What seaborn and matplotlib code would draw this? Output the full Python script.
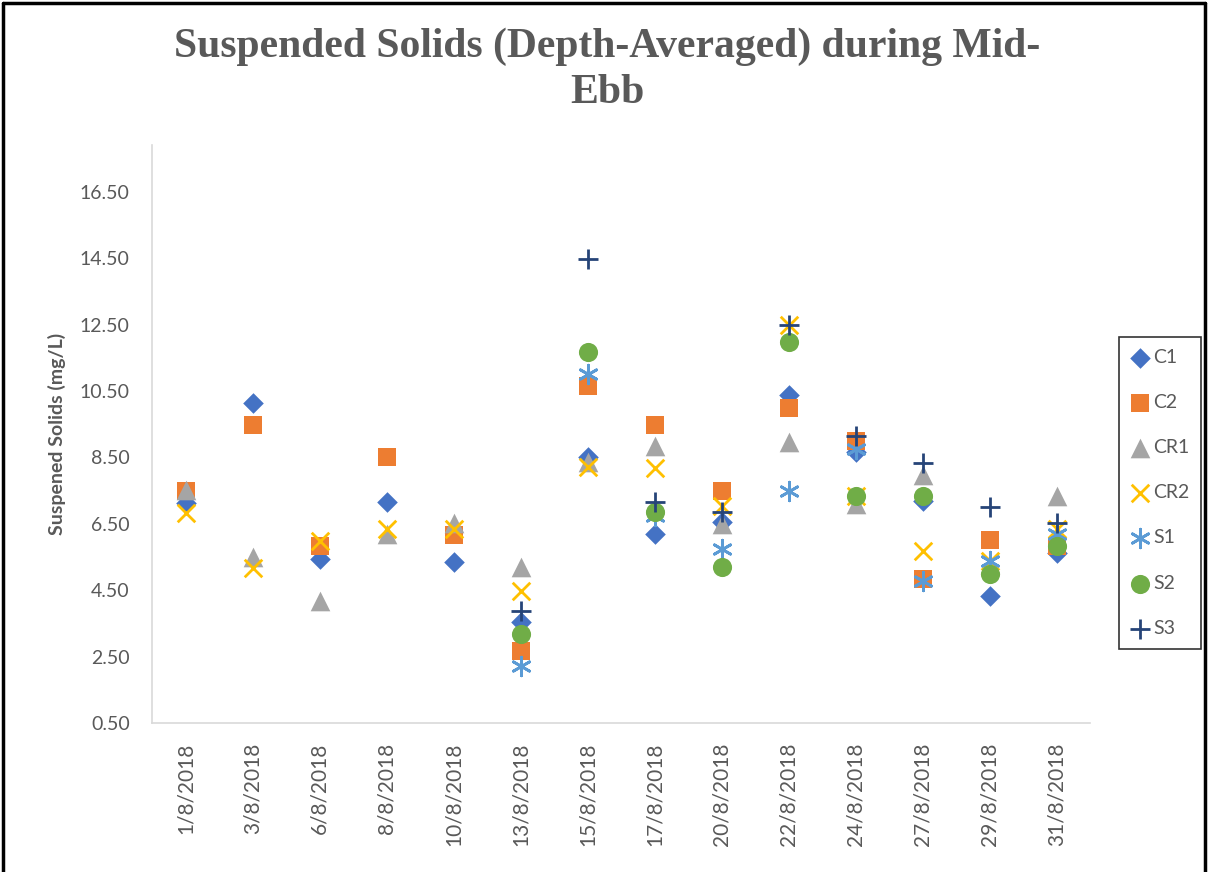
import matplotlib
matplotlib.use("Agg")
import numpy as np
import pandas as pd
import matplotlib.pyplot as plt
import seaborn as sns
from matplotlib.lines import Line2D

nan = np.nan

# Fechas de muestreo (eje x categorico)
dates = ["1/8/2018", "3/8/2018", "6/8/2018", "8/8/2018", "10/8/2018", "13/8/2018",
         "15/8/2018", "17/8/2018", "20/8/2018", "22/8/2018", "24/8/2018", "27/8/2018",
         "29/8/2018", "31/8/2018"]

# Valores (mg/L)
c1 = [7.12, 10.15, 5.45, 7.15, 5.34, 3.54, 8.50, 6.18, 6.55, 10.38, 8.65, 7.18, 4.32, 5.62]
c2 = [7.50, 9.49, 5.82, 8.50, 6.15, 2.67, 10.64, 9.49, 7.50, 10.00, 8.98, 4.83, 6.00, 5.82]
cr1 = [7.52, 5.50, 4.17, 6.18, 6.52, 5.19, 8.35, 8.83, 6.48, 8.95, 7.09, 7.96, 5.28, 7.33]
cr2 = [6.82, 5.16, 5.97, 6.33, 6.33, 4.47, 8.20, 8.17, 7.03, 12.50, 7.33, 5.67, 5.37, 6.33]
s1 = [nan, nan, nan, nan, nan, 2.21, 11.00, 6.73, 5.73, 7.48, 8.74, 4.77, 5.37, 6.18]
s2 = [nan, nan, nan, nan, nan, 3.18, 11.66, 6.85, 5.19, 11.99, 7.33, 7.33, 5.00, 5.82]
s3 = [nan, nan, nan, nan, nan, 3.87, 14.48, 7.15, 6.85, 12.50, 9.13, 8.32, 7.00, 6.52]

series_names = ["C1", "C2", "CR1", "CR2", "S1", "S2", "S3"]
series_vals = [c1, c2, cr1, cr2, s1, s2, s3]

yticks = [0.5, 2.5, 4.5, 6.5, 8.5, 10.5, 12.5, 14.5, 16.5]

# Estilo de cada serie (tipo Excel)
styles = {
    "C1": dict(marker="D", color="#4472C4", s=110),
    "C2": dict(marker="s", color="#ED7D31", s=180),
    "CR1": dict(marker="^", color="#A5A5A5", s=200),
    "CR2": dict(marker="x", color="#FFC000", s=160),
    "S1": dict(marker=(6, 2, 0), color="#5B9BD5", s=180),
    "S2": dict(marker="o", color="#70AD47", s=190),
    "S3": dict(marker="+", color="#264478", s=190),
}

sns.set_theme(style="white")
plt.rcParams["font.family"] = ["Lato", "DejaVu Sans"]

fig = plt.figure(figsize=(12.08, 8.72), dpi=100)
ax = fig.add_axes([152 / 1208, 1 - 723 / 872, (1090 - 152) / 1208, (723 - 145) / 872])

for name, vals in zip(series_names, series_vals):
    st = styles[name]
    df = pd.DataFrame({"fecha": dates, "valor": vals}).dropna()
    if st["marker"] in ("x", "+") or isinstance(st["marker"], tuple):
        sns.scatterplot(data=df, x="fecha", y="valor", ax=ax, marker=st["marker"],
                        color=st["color"], s=st["s"], linewidth=2.0,
                        edgecolor=st["color"], label=name)
    else:
        sns.scatterplot(data=df, x="fecha", y="valor", ax=ax, marker=st["marker"],
                        color=st["color"], s=st["s"], linewidth=0, label=name)

ax.set_xlim(-0.5, len(dates) - 0.5)
ax.set_ylim(0.5, 17.91)
ax.set_yticks(yticks)
ax.set_yticklabels([f"{v:.2f}" for v in yticks])
ax.tick_params(axis="both", length=0, colors="#595959", labelsize=14)
ax.tick_params(axis="y", pad=16)
ax.tick_params(axis="x", pad=14, labelsize=15)
for lab in ax.get_xticklabels():
    lab.set_rotation(90)
ax.set_xlabel("")
ax.set_ylabel("Suspened Solids (mg/L)", fontsize=14, fontweight="bold", color="#595959",
              labelpad=10)
for side in ["top", "right"]:
    ax.spines[side].set_visible(False)
for side in ["left", "bottom"]:
    ax.spines[side].set_color("#D9D9D9")
    ax.spines[side].set_linewidth(1.2)

leg = ax.legend(loc="upper left", bbox_to_anchor=(1119 / 1208, 1 - 337 / 872),
                bbox_transform=fig.transFigure, frameon=True, fancybox=False,
                fontsize=14, labelspacing=1.45, handletextpad=0.15, borderpad=0.6,
                handlelength=1.0, borderaxespad=0)
leg.get_frame().set_edgecolor("black")
leg.get_frame().set_linewidth(1.2)
for t in leg.get_texts():
    t.set_color("#595959")

title_font = ["Liberation Serif", "DejaVu Serif"]
fig.text(0.503, 1 - 47 / 872, "Suspended Solids (Depth-Averaged) during Mid-",
         ha="center", va="center", fontsize=30, fontweight="bold", color="#595959",
         family=title_font)
fig.text(0.503, 1 - 93 / 872, "Ebb", ha="center", va="center", fontsize=30,
         fontweight="bold", color="#595959", family=title_font)

# marco exterior del grafico
for xs, ys in [([3 / 1208, 3 / 1208], [0, 1 - 3 / 872]),
               ([3 / 1208, 1205 / 1208], [1 - 3 / 872, 1 - 3 / 872]),
               ([1205 / 1208, 1205 / 1208], [0, 1 - 3 / 872])]:
    fig.add_artist(Line2D(xs, ys, color="black", linewidth=2.5, transform=fig.transFigure))

fig.savefig("out.png", dpi=100)
